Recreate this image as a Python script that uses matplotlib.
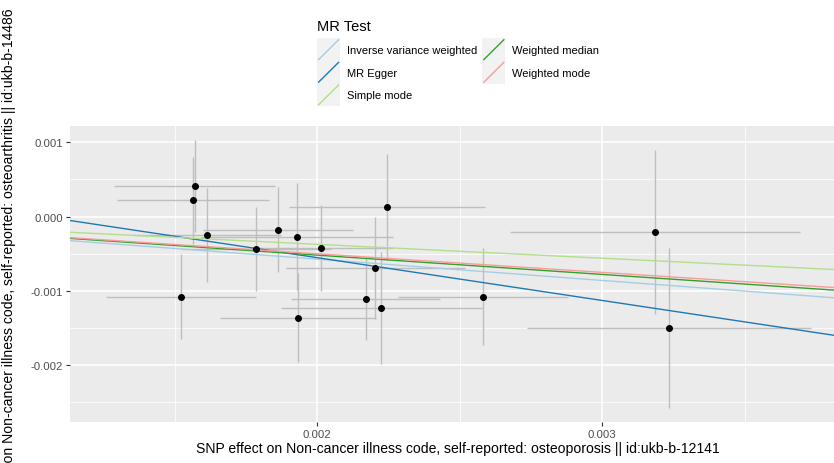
import matplotlib
matplotlib.use("Agg")
import matplotlib.pyplot as plt
from matplotlib.legend_handler import HandlerBase
from matplotlib.patches import Rectangle
from matplotlib.lines import Line2D

plt.rcParams['font.family'] = ['Liberation Sans', 'DejaVu Sans']

# SNP effects (exposure: osteoporosis, outcome: osteoarthritis)
beta_x = [0.001570, 0.001565, 0.001615, 0.001787, 0.001863, 0.001928, 0.002015, 0.002244,
          0.001522, 0.001933, 0.002170, 0.002205, 0.002225, 0.002583, 0.003186, 0.003235]
se_x = [0.000282, 0.000267, 0.000260, 0.000262, 0.000263, 0.000337, 0.000250, 0.000344,
        0.000263, 0.000275, 0.000261, 0.000315, 0.000352, 0.000298, 0.000510, 0.000497]
beta_y = [0.000409, 0.000221, -0.000246, -0.000435, -0.000175, -0.000269, -0.000421, 0.000127,
          -0.001081, -0.001363, -0.001108, -0.000690, -0.001233, -0.001081, -0.000210, -0.001502]
se_y = [0.000619, 0.000585, 0.000633, 0.000568, 0.000576, 0.000725, 0.000576, 0.000713,
        0.000572, 0.000599, 0.000561, 0.000689, 0.000759, 0.000651, 0.001106, 0.001083]

# MR estimates
methods = ['Inverse variance weighted', 'MR Egger', 'Simple mode', 'Weighted median', 'Weighted mode']
slopes = [-0.2868, -0.5767, -0.1870, -0.2598, -0.2507]
intercepts = [0.0, 0.0006, 0.0, 0.0, 0.0]
colors = ['#a6cee3', '#1f78b4', '#b2df8a', '#33a02c', '#fb9a99']

xlim = (0.001133, 0.003856)
ylim = (-0.002763, 0.001215)


class DiagKey(HandlerBase):
    def create_artists(self, legend, orig_handle, xdescent, ydescent, width, height, fontsize, trans):
        box = Rectangle((-xdescent, -ydescent), width, height, fc='#F2F2F2', ec='none', transform=trans)
        ln = Line2D([-xdescent + 1, -xdescent + width - 1], [-ydescent + 1, -ydescent + height - 1],
                    color=orig_handle.get_color(), lw=1.0, transform=trans)
        return [box, ln]


fig = plt.figure(figsize=(8.34, 4.64), dpi=100)
# panel runs a little past the right edge of the picture, as in the reference
ax = fig.add_axes([70 / 834, 0.089, 776 / 834, 0.7256 - 0.089])
ax.set_facecolor('#EBEBEB')

ax.errorbar(beta_x, beta_y, xerr=se_x, yerr=se_y, fmt='none', ecolor='#BEBEBE', elinewidth=1.0,
            capsize=0, zorder=2)
ax.scatter(beta_x, beta_y, s=16, color='black', zorder=4)

handles = []
for m, b, a, c in zip(methods, slopes, intercepts, colors):
    ax.axline((0, a), slope=b, color=c, lw=1.0, zorder=3)
    handles.append(Line2D([], [], color=c, label=m))

ax.set_xlim(*xlim)
ax.set_ylim(*ylim)
ax.set_xticks([0.002, 0.003])
ax.set_xticklabels(['0.002', '0.003'])
ax.set_xticks([0.0015, 0.0025, 0.0035], minor=True)
ax.set_yticks([0.001, 0.0, -0.001, -0.002])
ax.set_yticklabels(['0.001', '0.000', '-0.001', '-0.002'])
ax.set_yticks([0.0005, -0.0005, -0.0015, -0.0025], minor=True)
ax.grid(which='major', color='white', lw=1.1)
ax.grid(which='minor', color='white', lw=0.55)
ax.set_axisbelow(True)
for s in ax.spines.values():
    s.set_visible(False)
ax.tick_params(which='major', length=3, width=0.8, color='#333333', labelsize=8.2,
               labelcolor='#4D4D4D', pad=2)
ax.tick_params(which='minor', length=0)

ax.set_xlabel('SNP effect on Non-cancer illness code, self-reported: osteoporosis || id:ukb-b-12141',
              fontsize=10.1, labelpad=2)
ax.set_ylabel('SNP effect on Non-cancer illness code, self-reported: osteoarthritis || id:ukb-b-14486',
              fontsize=10.1)
ax.yaxis.set_label_coords(-0.0696, 0.514)

leg = fig.legend(handles=handles, handler_map={Line2D: DiagKey()}, ncol=2, frameon=False,
                 title='MR Test', loc='upper left', bbox_to_anchor=(0.371, 0.974),
                 fontsize=8.0, title_fontsize=10.5, handlelength=2.05, handleheight=2.75,
                 labelspacing=0.0, handletextpad=0.6, columnspacing=0.5, borderpad=0.2)
leg._legend_box.align = 'left'
leg._legend_box.sep = 4

fig.savefig('out.png', dpi=100)
